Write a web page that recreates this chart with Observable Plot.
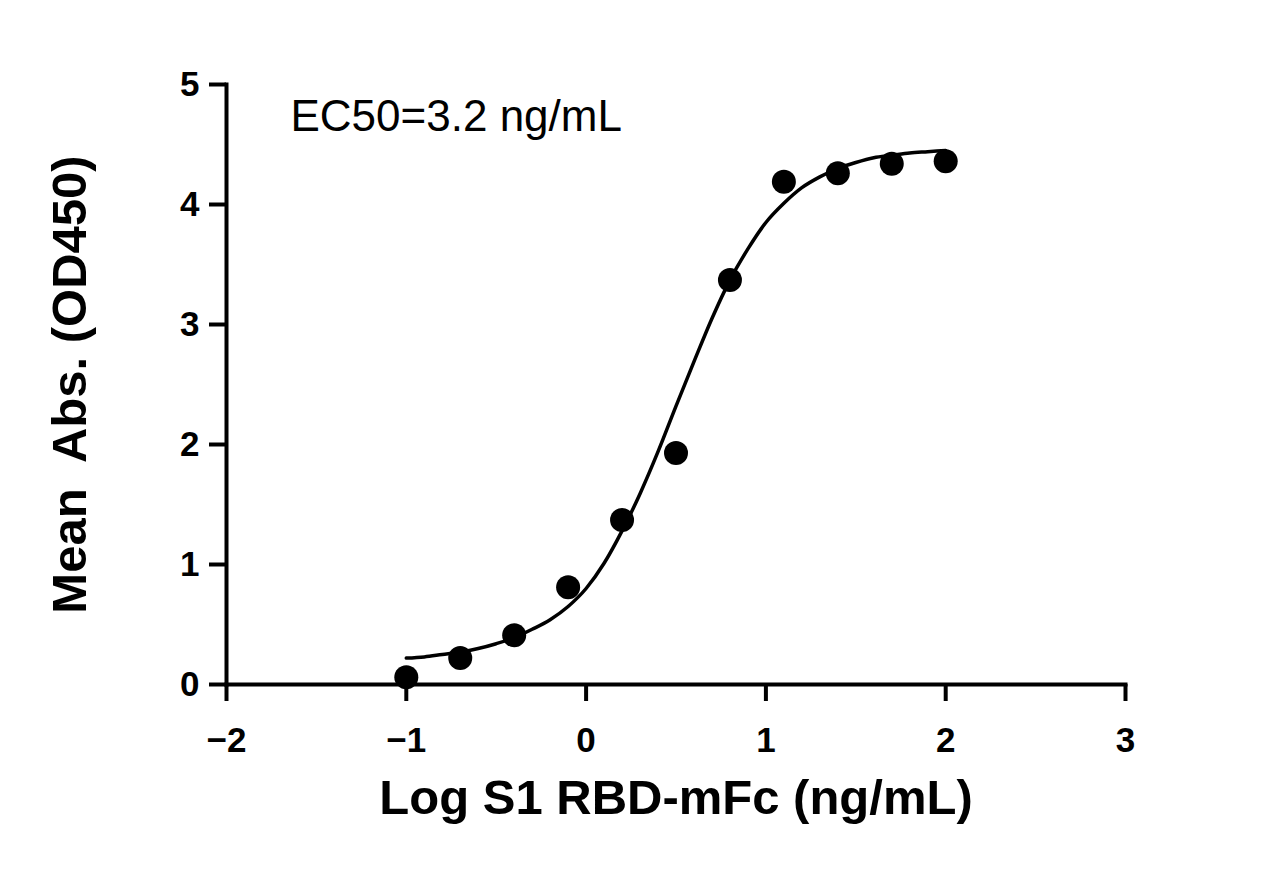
<!DOCTYPE html>
<html>
<head>
<meta charset="utf-8">
<script src="https://cdn.jsdelivr.net/npm/d3@7"></script>
<script src="https://cdn.jsdelivr.net/npm/@observablehq/plot@0.6"></script>
<style>
  html, body { margin: 0; padding: 0; background: #fff; }
  #chart svg text { font-family: "Liberation Sans", Arial, sans-serif; }
</style>
</head>
<body>
<div id="chart"></div>
<script>
// measured points
const logDose = [-1.0, -0.7, -0.4, -0.1, 0.2, 0.5, 0.8, 1.1, 1.4, 1.7, 2.0];
const meanAbs = [0.06, 0.22, 0.41, 0.81, 1.37, 1.93, 3.37, 4.19, 4.26, 4.34, 4.36];

// fitted curve
const curveX = [-1.0, -0.9, -0.8, -0.7, -0.6, -0.5, -0.4, -0.3, -0.2, -0.1, 0.0, 0.1, 0.2, 0.3, 0.4, 0.5, 0.6, 0.7, 0.8, 0.9, 1.0, 1.1, 1.2, 1.3, 1.4, 1.5, 1.6, 1.7, 1.8, 1.9, 2.0];
const curveY = [0.22, 0.23, 0.25, 0.27, 0.30, 0.34, 0.39, 0.46, 0.54, 0.65, 0.80, 1.01, 1.28, 1.59, 1.94, 2.32, 2.69, 3.05, 3.37, 3.63, 3.85, 4.01, 4.14, 4.23, 4.30, 4.35, 4.39, 4.41, 4.43, 4.44, 4.45];

const xTicks = [-2, -1, 0, 1, 2, 3];
const yTicks = [0, 1, 2, 3, 4, 5];

const xTitle = "Log S1 RBD-mFc (ng/mL)";
const yTitle = "Mean  Abs. (OD450)";
const note = "EC50=3.2 ng/mL";

const points = logDose.map((x, i) => ({x, y: meanAbs[i]}));
const curve = curveX.map((x, i) => ({x, y: curveY[i]}));
const fmt = d3.format("d");

const chart = Plot.plot({
  width: 1263,
  height: 870,
  marginLeft: 226,
  marginRight: 138,
  marginTop: 84,
  marginBottom: 186,
  style: {fontFamily: "Liberation Sans, Arial, sans-serif", background: "#fff", color: "#000"},
  x: {domain: [-2, 3]},
  y: {domain: [0, 5]},
  marks: [
    Plot.frame({anchor: "left", stroke: "#000", strokeWidth: 4, strokeLinecap: "square"}),
    Plot.frame({anchor: "bottom", stroke: "#000", strokeWidth: 4, strokeLinecap: "square"}),
    Plot.axisX({ticks: xTicks, tickFormat: fmt, tickSize: 17, strokeWidth: 4, tickPadding: 26, fontSize: 35, fontWeight: "bold", label: null}),
    Plot.axisY({ticks: yTicks, tickFormat: fmt, tickSize: 17, strokeWidth: 4, tickPadding: 10, fontSize: 35, fontWeight: "bold", label: null}),
    Plot.line(curve, {x: "x", y: "y", stroke: "#000", strokeWidth: 3.5, curve: "monotone-x"}),
    Plot.dot(points, {x: "x", y: "y", r: 12, fill: "#000", stroke: "none"}),
    Plot.text([xTitle], {frameAnchor: "bottom", dy: 129, fontSize: 49, fontWeight: "bold", fill: "#000"}),
    Plot.text([yTitle], {frameAnchor: "left", textAnchor: "middle", dx: -156, rotate: -90, fontSize: 49, fontWeight: "bold", fill: "#000"}),
    Plot.text([note], {frameAnchor: "top-left", textAnchor: "start", lineAnchor: "top", dx: 64, dy: 15, fontSize: 44, fill: "#000"})
  ]
});
document.getElementById("chart").appendChild(chart);
</script>
</body>
</html>
